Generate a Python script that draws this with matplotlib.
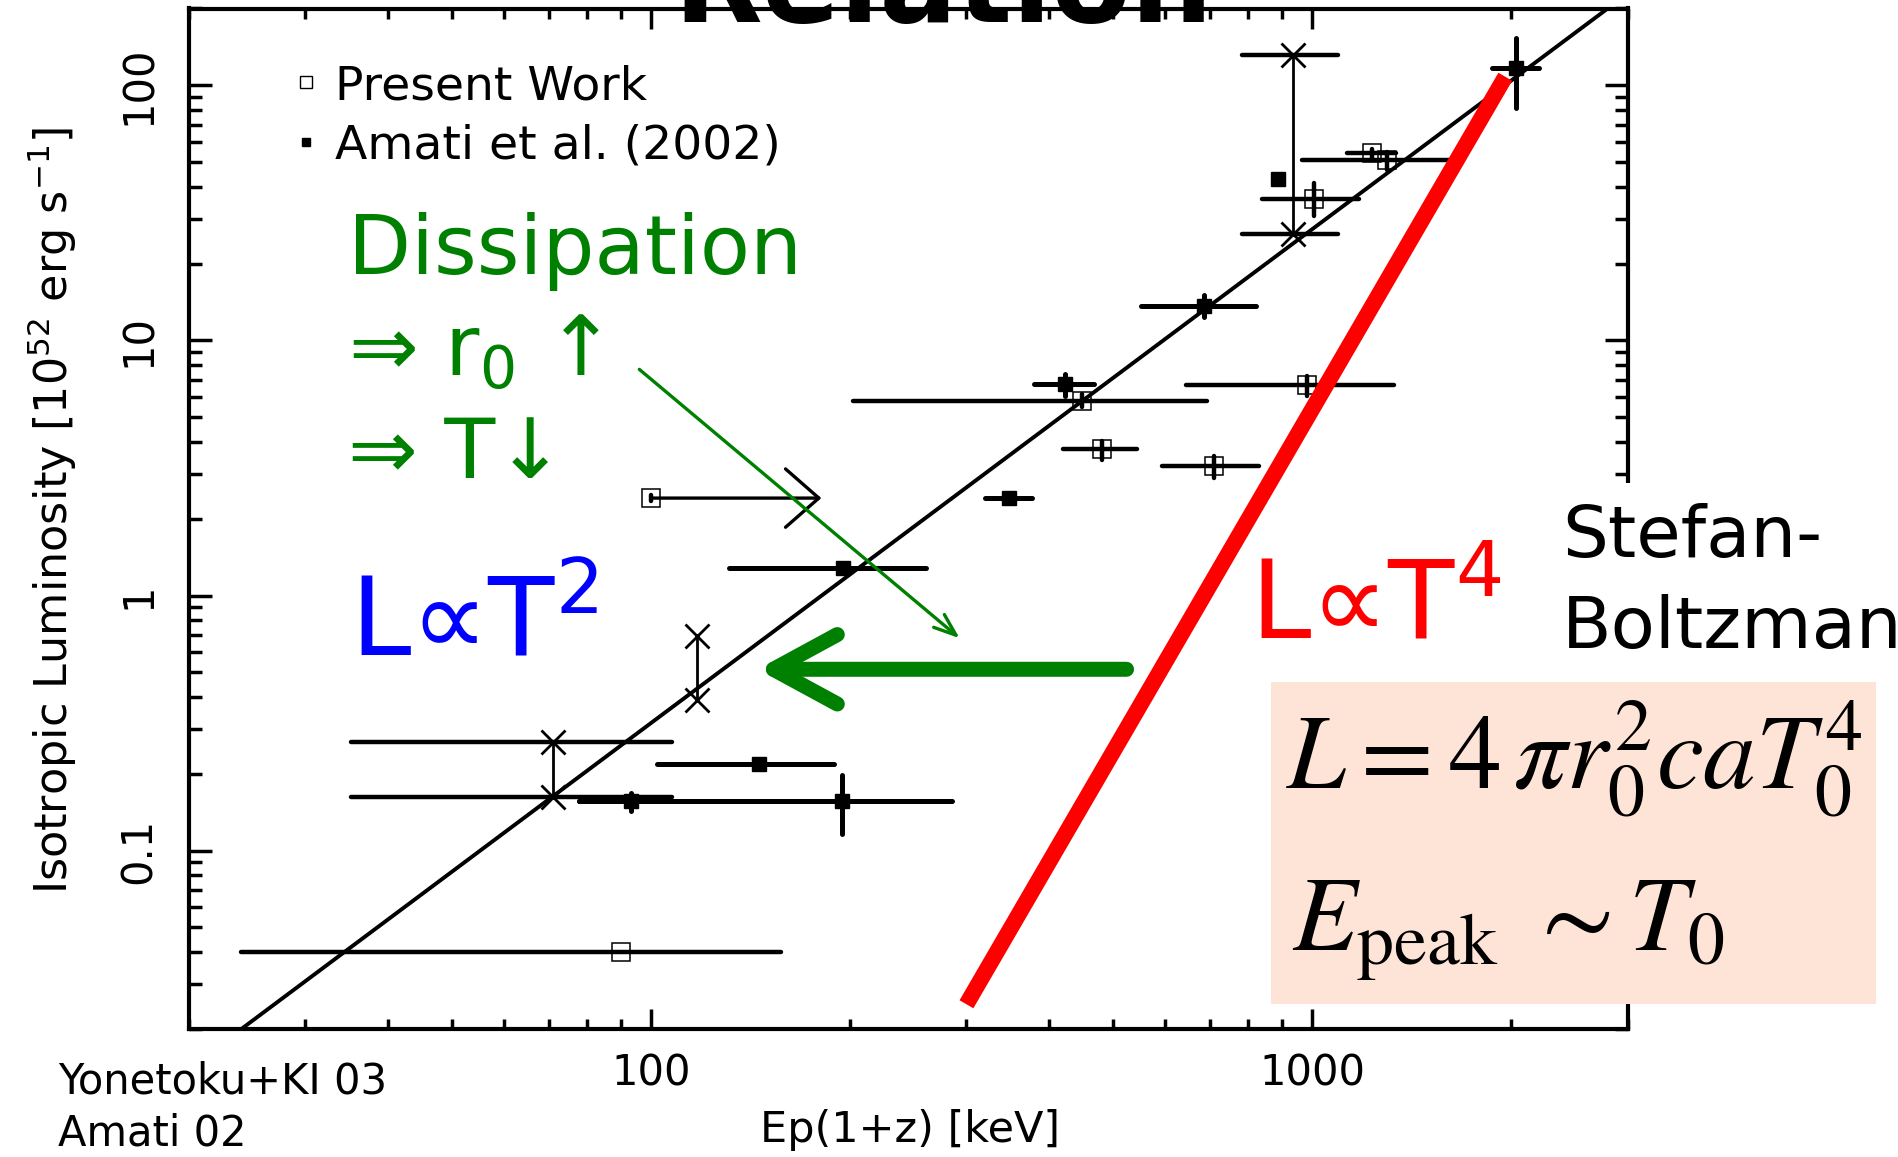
import numpy as np
import matplotlib.pyplot as plt
from matplotlib.lines import Line2D
from matplotlib.patches import Rectangle, FancyArrowPatch
from matplotlib.ticker import NullFormatter

plt.rcParams['font.family'] = ['DejaVu Sans']
plt.rcParams['mathtext.fontset'] = 'dejavusans'

W, H = 1899, 1157

# ---- data ----
# Present Work (open squares)
pw_ep = np.array([90, 100, 448, 481, 711, 982, 1007, 1233, 1297])
pw_lum = np.array([0.040, 2.41, 5.78, 3.75, 3.22, 6.67, 35.9, 54.2, 50.9])
pw_ep_lo = np.array([24, 100, 202, 420, 593, 644, 839, 1129, 966])
pw_ep_hi = np.array([157, 100, 693, 544, 832, 1330, 1178, 1340, 1630])
pw_lum_lo = np.array([0.040, 2.35, 5.48, 3.40, 2.89, 6.04, 30.8, 52.0, 46.5])
pw_lum_hi = np.array([0.040, 2.47, 6.15, 4.03, 3.52, 7.23, 41.4, 56.5, 54.7])

# Amati et al. (2002) (filled squares)
am_ep = np.array([93.3, 145.6, 194.5, 195, 348, 423, 687, 889, 2037])
am_lum = np.array([0.157, 0.219, 0.157, 1.286, 2.41, 6.73, 13.7, 42.9, 116.5])
am_ep_lo = np.array([77.9, 102, 77.9, 131, 320, 380, 551, 889, 1871])
am_ep_hi = np.array([107.6, 189, 285, 261, 377, 467, 823, 889, 2204])
am_lum_lo = np.array([0.143, 0.219, 0.116, 1.286, 2.41, 6.04, 12.3, 42.9, 81.3])
am_lum_hi = np.array([0.168, 0.219, 0.198, 1.286, 2.41, 7.36, 15.1, 42.9, 152.6])

# bursts with two redshift solutions (x markers joined by a line)
pair_ep = np.array([71.1, 117.4, 936])
pair_hi = np.array([0.267, 0.692, 131])
pair_lo = np.array([0.1625, 0.390, 26.2])
pair_ep_lo = np.array([35.2, 117.4, 783])
pair_ep_hi = np.array([107.6, 117.4, 1094])

# lower limit on Ep
lim_ep, lim_tip, lim_lum = 100, 181, 2.41

# L ~ Ep^2 fit and L ~ T^4 line
fit_ep = [24, 2800]
fit_lum = [0.02, 200]
sb_ep = [300, 1960]
sb_lum = [0.025, 108]

# ---- figure ----
fig = plt.figure(figsize=(W / 100, H / 100), dpi=100)
ax_l, ax_r, ax_t, ax_b = 189, 1627.5, 8.5, 1029
ax = fig.add_axes([ax_l / W, 1 - ax_b / H, (ax_r - ax_l) / W, (ax_b - ax_t) / H])
ax.set_xscale('log')
ax.set_yscale('log')
ax.set_xlim(20, 3000)
ax.set_ylim(0.02, 200)

ax.plot(fit_ep, fit_lum, color='k', lw=2.8, zorder=2)


def bars(x, y, xlo, xhi, ylo, yhi, lw=3.2):
    eb = ax.errorbar(x, y, xerr=[x - xlo, xhi - x], yerr=[y - ylo, yhi - y],
                     fmt='none', ecolor='k', elinewidth=lw, capsize=0, zorder=3)
    for lc in eb[2]:
        lc.set_capstyle('round')


bars(pw_ep, pw_lum, pw_ep_lo, pw_ep_hi, pw_lum_lo, pw_lum_hi)
bars(am_ep, am_lum, am_ep_lo, am_ep_hi, am_lum_lo, am_lum_hi, lw=3.6)
bars(pair_ep, pair_hi, pair_ep_lo, pair_ep_hi, pair_hi, pair_hi)
bars(pair_ep, pair_lo, pair_ep_lo, pair_ep_hi, pair_lo, pair_lo)

ax.plot(pw_ep, pw_lum, 's', mfc='none', mec='k', ms=13, mew=1.1, zorder=4)
ax.plot(am_ep, am_lum, 's', color='k', ms=10.5, zorder=4)
ax.vlines(pair_ep, pair_lo, pair_hi, color='k', lw=2.0, zorder=3)
ax.plot(pair_ep, pair_hi, 'x', color='k', ms=17, mew=2.0, zorder=4)
ax.plot(pair_ep, pair_lo, 'x', color='k', ms=17, mew=2.0, zorder=4)

ax.add_patch(FancyArrowPatch((lim_ep, lim_lum), (lim_tip, lim_lum),
                             arrowstyle='->,head_length=24,head_width=21',
                             mutation_scale=1, lw=2.4, color='k',
                             shrinkA=0, shrinkB=0, capstyle='round', zorder=3))

ax.plot(sb_ep, sb_lum, color='#ff0000', lw=11.5, solid_capstyle='butt', zorder=5)

green = '#008000'
ax.add_patch(FancyArrowPatch((96, 7.7), (293, 0.68),
                             arrowstyle='->,head_length=16,head_width=6',
                             mutation_scale=1, lw=2.4, color=green,
                             shrinkA=0, shrinkB=0, zorder=6))
ax.add_patch(FancyArrowPatch((524, 0.514), (145, 0.514),
                             arrowstyle='->,head_length=46,head_width=25',
                             mutation_scale=1, lw=10.8, color=green,
                             shrinkA=0, shrinkB=0, capstyle='round',
                             joinstyle='round', zorder=6))

# axes styling
for s in ax.spines.values():
    s.set_linewidth(3.0)
ax.set_xticks([100, 1000], labels=['100', '1000'], fontsize=30)
ax.set_yticks([0.1, 1, 10, 100], labels=['0.1', '1', '10', '100'],
              fontsize=30, rotation=90, va='center')
ax.xaxis.set_minor_formatter(NullFormatter())
ax.yaxis.set_minor_formatter(NullFormatter())
ax.tick_params(which='both', direction='in', top=True, right=True, width=2.5)
ax.tick_params(axis='x', which='major', length=14.5, pad=17)
ax.tick_params(axis='x', which='minor', length=7.5)
ax.tick_params(axis='y', which='major', length=16.5, pad=21)
ax.tick_params(axis='y', which='minor', length=9.5)

ax.set_xlabel('Ep(1+z) [keV]', fontsize=31, va='center')
ax.xaxis.set_label_coords((910 - ax_l) / (ax_r - ax_l), (ax_b - 1130) / (ax_b - ax_t))
ax.set_ylabel(r'Isotropic Luminosity [10$^{52}$ erg s$^{-1}$]', fontsize=32, va='center')
ax.yaxis.set_label_coords((52 - ax_l) / (ax_r - ax_l), (ax_b - 510) / (ax_b - ax_t))

handles = [Line2D([], [], ls='none', marker='s', mfc='none', mec='k', ms=8, mew=1),
           Line2D([], [], ls='none', marker='s', color='k', ms=5.5)]
ax.legend(handles, ['Present Work', 'Amati et al. (2002)'], loc='upper left',
          bbox_to_anchor=(297 / W, 1 - 64 / H), bbox_transform=fig.transFigure,
          frameon=False, fontsize=34, borderpad=0, borderaxespad=0,
          handlelength=0.4, handletextpad=0.4, labelspacing=0.3)


def ftext(px, py, s, **kw):
    kw.setdefault('va', 'baseline')
    return fig.text(px / W, 1 - py / H, s, **kw)


# boxes laid over the plot
fig.add_artist(Rectangle((1541 / W, 1 - 684 / H), (W - 1541) / W, 201 / H,
                         transform=fig.transFigure, fc='white', ec='none', zorder=1))
fig.add_artist(Rectangle((1271 / W, 1 - 1004 / H), 605 / W, 322 / H,
                         transform=fig.transFigure, fc='#fde4d6', ec='none', zorder=1))

ftext(673, 22, 'Relation', fontsize=83, fontweight='bold')
ftext(348, 274, 'Dissipation', fontsize=59, color=green)
ftext(348, 376, r'⇒ r$_0$ ↑', fontsize=60, color=green)
ftext(348, 478, '⇒ T↓', fontsize=60, color=green)
ftext(350, 655, r'L∝T$^2$', fontsize=78, color='#0000ff')
ftext(1250, 637, r'L∝T$^4$', fontsize=78, color='#ff0000')
ftext(1562, 557, 'Stefan-', fontsize=52)
ftext(1562, 648, 'Boltzman', fontsize=52)
ftext(1286, 788, r'$L=4\,\pi r_0^2 caT_0^4$', fontsize=76, math_fontfamily='stix')
ftext(1292, 950, r'$E_{\mathrm{peak}}\ \sim T_0$', fontsize=76, math_fontfamily='stix')
ftext(58, 1093, 'Yonetoku+KI 03', fontsize=30)
ftext(58, 1146, 'Amati 02', fontsize=30)

fig.savefig('out.png', dpi=100)
